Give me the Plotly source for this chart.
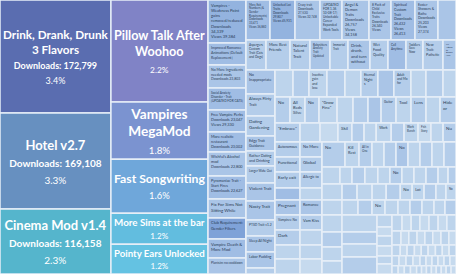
import plotly.graph_objects as go

# ----------------------------- data -----------------------------
# biggest mods (left column): label, downloads, share of all downloads, tile weight
top_labels = ["Drink, Drank, Drunk<br>3 Flavors", "Hotel v2.7", "Cinema Mod v1.4"]
top_downloads = [172799, 169108, 116158]
top_share = [3.4, 3.3, 2.3]
top_size = [251, 213, 144]

# second column
second_labels = ["Pillow Talk After<br>Woohoo", "Vampires<br>MegaMod", "Fast Songwriting",
                 "More Sims at the bar", "Pointy Ears Unlocked"]
second_share = [2.2, 1.8, 1.6, 1.2, 1.2]
second_size = [198, 111, 105, 60, 58]

# third column
col3_labels = [
    "Vampires -<br>Weakness Point<br>gains<br>removed/reduced<br>Downloads<br>34,339<br>Views 39,384",
    "Improved Romance<br>Animations [Default<br>Replacement]",
    "No More Ingredients<br>needed mods<br>Downloads 23,803",
    "Social Anxiety<br>Disorder - Trait<br>[UPDATED FOR CATS]",
    "Free Vampire Perks<br>Downloads 23,047<br>Views 29,330",
    "More realistic<br>restaurant<br>Downloads 23,002",
    "Wishful's Alcohol<br>mod<br>Downloads 22,800",
    "Pyromaniac Trait -<br>Start Fires<br>Downloads 22,627",
    "Fix For Sims Not<br>Sitting While",
    "Club Requirement:<br>Gender Filters",
    "Vampire Death &<br>More Mod",
    "Plantsim no cooldown",
]
col3_size = [32.7, 16.7, 17.5, 16.7, 16.7, 15.2, 18.2, 17.5, 14.4, 16.0, 14.4, 12.2]

# right block, first row
r1_labels = [
    "More Exit<br>Numbers [&<br>Gender<br>Requirements]<br>Downloads<br>33,471<br>Views 36,860",
    "Unlocked Lot<br>Traits<br>Downloads<br>29,807<br>Views 45,931",
    "Crazy trait<br>Downloads<br>27,530<br>Views 32,748",
    "[UPDATED<br>FOR 1.36<br>10-08-17]<br>Unlockable<br>Career<br>Expanded<br>Work Tools",
    "Angel &<br>Demon<br>Traits<br>Downloads<br>26,757<br>Views<br>34,158",
    "8 Pack of<br>Child<br>Exclusive<br>Traits<br>Downloads<br>26,340<br>Views",
    "Spiritual<br>Custom<br>Trait<br>Downloads<br>26,432<br>Views<br>26,413",
    "Easter<br>Showers &<br>Bathe<br>Downloads<br>25,203<br>Views<br>27,374",
    "",
]
r1_size = [19.2, 20, 20, 17.6, 21.6, 17.6, 19.2, 18.4, 14.4]

# right block, second row
r2_labels = ["Aspergers<br>Custom<br>Trait (Cats<br>and Dogs)", "More Best<br>Friends",
             "Natural<br>Talent<br>Trait", "Babysitters<br>Anxiety<br>Trait<br>Updated",
             "Immortal<br>Trait", "Drink,<br>drank,<br>and turn<br>without", "Wet<br>Food<br>Quality",
             "Call<br>Anytime", "Toddlers<br>Save<br>Now", "New<br>Trait:<br>Pathetic",
             "Kill<br>Attend<br>to<br>Bubble<br>Hole"]
r2_size = [12, 14.4, 12, 12, 10.8, 13.2, 10.8, 10.8, 10.2, 12, 7.8]

sc1_labels = ["No<br>Inappropriate", "Always Flirty<br>Trait", "Dating<br>Gardening",
              "Edgy Trait<br>Guidance", "Rather Dating<br>and Drinking", "Longer Wake Out",
              "Violent Trait", "Nasty Trait", "PTSD Trait v1.2", "Sleep All Night",
              "Labor Pudding", ""]
sc1_size = [13.9, 12.8, 11.6, 8.7, 8.7, 9.9, 10.4, 11.0, 9.3, 9.3, 9.3, 3.5]

ra_labels = ["", "", "Inactive<br>gain<br>and<br>lose", "", "", "Eternal<br>Night<br>s", "",
             "Adult<br>and Mo<br>for", "", "", ""]
ra_size = [9.7, 8.6, 9.7, 9.7, 8.6, 9.2, 8.6, 9.2, 8.1, 9.2, 7.0]

rb_labels = ["No", "All<br>Beds<br>Silve", "No", "\"Grow<br>Fine\"", "", "", "", "Guitar",
             "Tool", "Lens", "", "Hide<br>or"]
rb_size = [7.8, 7.8, 7.3, 9.4, 8.3, 7.8, 6.8, 7.8, 7.8, 7.8, 7.3, 8.3]

rc_labels = ["\"Embrace\"", "", "", "Skil", "", "", "Work", "", "Work<br>Bench", "Fish<br>Story", "", "Nu"]
rc_size = [9.5, 7.6, 6.8, 5.3, 4.6, 4.6, 5.7, 4.9, 5.3, 4.9, 4.6, 4.9]

k1_labels = ["Autonomous", "Functional", "Early exit", "", "Pregnant", "Vampires: No", "Dark", "", ""]
k1_size = [7.5, 7.5, 8.0, 6.0, 7.5, 7.5, 7.5, 7.0, 7.5]
k2_labels = ["No More", "Global", "Allergic to", "", "Romance", "Vam Kiss", "", "", ""]
k2_size = [6.6, 6.6, 7.0, 5.3, 6.6, 6.6, 6.6, 6.2, 6.6]

d1_labels = ["No", "Kill<br>Rest", "All in<br>One", "", "", "No", "", "", "", ""]
d1_size = [11.5, 7.0, 6.5, 6.0, 6.0, 6.0, 6.0, 6.0, 6.0, 6.0]
d2_labels = ["", "", "", "", "", "No", "", "", "", "", ""]
d2_size = [6.1, 4.1, 4.4, 4.4, 4.1, 4.1, 4.1, 4.1, 4.1, 3.4, 2.7]
d3_labels = ["", "", "", "", "", "No", "Lot", "", "", "No"]
d3_size = [6.4, 4.8, 4.8, 4.5, 4.5, 3.8, 3.8, 3.8, 3.2, 3.2]
d4_labels = ["", "", "", "No", "", "", "", "", "", ""]
d4_size = [6.0, 4.8, 4.2, 3.9, 3.9, 3.6, 3.6, 3.6, 3.3, 3.3]

e1_size = [6.8, 6.0, 5.6, 5.2]
e2_size = [11.9, 8.4, 9.1, 11.9]
e3_size = [3.6, 2.7, 3.0, 3.0, 2.4, 3.0]
f1_size = [3.2, 2.9, 2.8, 2.9, 2.9, 2.8, 2.9]
f2_size = [2.5, 2.2, 2.3, 2.2, 2.2, 2.3, 2.2, 2.0]
f3_size = [1.8, 1.5, 1.6, 1.5, 1.5, 1.6, 1.5, 1.5, 1.5]
f4_size = [1.4, 1.4, 1.4, 1.4, 1.2, 1.2, 1.2, 1.2, 1.2, 1.2]
f5_size = [1.0, 1.0, 1.0, 1.0, 0.8, 0.8, 0.8, 0.8, 0.8, 0.8, 0.8, 0.8]

# ----------------------------- styles -----------------------------
PALETTE = ["#7fa2d8", "#93b3df", "#a0bde4", "#aac5e7", "#b4cdea", "#bdd4ec", "#c6daee", "#cfe0f0"]
top_colors = ["#5a6db0", "#6790c0", "#55b5cc"]
second_colors = ["#8083c6", "#7b93d0", "#6fa7da", "#62bddf", "#64c2e2"]
name_sizes_top = [13, 13, 13]
name_sizes_second = [15, 14, 13, 12, 12]

shades = {
    "c3": [1, 2, 3, 2, 2, 2, 3, 2, 3, 0, 2, 3],
    "r1": [2, 1, 3, 3, 3, 3, 2, 3, 3],
    "r2": [4, 4, 4, 3, 4, 3, 4, 2, 4, 4, 3],
    "sc1": [3, 4, 4, 3, 4, 4, 3, 3, 4, 3, 3, 4],
    "ra": [5, 4, 5, 4, 5, 4, 3, 4, 5, 4, 5],
    "rb": [4, 5, 4, 5, 5, 4, 3, 4, 5, 4, 5, 4],
    "rc": [4, 5, 6, 5, 4, 5, 5, 4, 5, 6, 5, 4],
    "k1": [4, 4, 4, 2, 3, 4, 4, 5, 5],
    "k2": [4, 4, 4, 5, 3, 4, 5, 5, 6],
    "d1": [4, 5, 4, 5, 4, 3, 5, 4, 5, 4],
    "d2": [5, 5, 4, 5, 5, 4, 5, 5, 4, 5, 4],
    "d3": [5, 4, 5, 5, 4, 5, 5, 4, 5, 5],
    "d4": [5, 5, 4, 5, 5, 5, 4, 5, 5, 4],
    "e1": [5, 4, 5, 5], "e2": [5, 4, 5, 4], "e3": [5, 6, 5, 6, 5, 6],
}

# ----------------------------- build tree -----------------------------
ids, parents, labels, values, colors, text_big, text_small = [], [], [], [], [], [], []
big_font_sizes = []


def node(i, p, lab, val, col, tb="", ts="", fs=5):
    ids.append(i); parents.append(p); labels.append(lab); values.append(val)
    colors.append(col); text_big.append(tb); text_small.append(ts); big_font_sizes.append(fs)


def group(gid, parent):
    node(gid, parent, gid, 0, "#c6d9ee")


def leaves(gid, names, sizes, shade):
    if names is None:
        names = [""] * len(sizes)
    if shade is None:
        shade = [5 + (k % 2) for k in range(len(sizes))]
    for k, (n, s, sh) in enumerate(zip(names, sizes, shade)):
        lid = f"{gid}-{k}"
        node(lid, gid, n.replace("<br>", " ") if n else lid, s, PALETTE[sh], "", n)


node("root", "", "Sims 4 mods", 0, "#dfe8f3")

group("col1", "root")
for k, (lab, d, sh, s) in enumerate(zip(top_labels, top_downloads, top_share, top_size)):
    t = (f"<b>{lab}</b><br><b><span style='font-size:10px'>Downloads: {d:,}</span></b>"
         f"<br><span style='font-size:10px'>{sh}%</span>")
    node(f"top-{k}", "col1", lab.replace("<br>", " "), s, top_colors[k], t, "", name_sizes_top[k])

group("col2", "root")
for k, (lab, sh, s) in enumerate(zip(second_labels, second_share, second_size)):
    t = f"<b>{lab}</b><br><span style='font-size:10px'>{sh}%</span>"
    node(f"sec-{k}", "col2", lab.replace("<br>", " "), s, second_colors[k], t, "", name_sizes_second[k])

group("col3", "root")
leaves("col3", col3_labels, col3_size, shades["c3"])

group("R", "root")
group("R1", "R"); leaves("R1", r1_labels, r1_size, shades["r1"])
group("R2", "R"); leaves("R2", r2_labels, r2_size, shades["r2"])
group("R3", "R")
group("SC1", "R3"); leaves("SC1", sc1_labels, sc1_size, shades["sc1"])
group("R3b", "R3")
group("ra", "R3b"); leaves("ra", ra_labels, ra_size, shades["ra"])
group("rb", "R3b"); leaves("rb", rb_labels, rb_size, shades["rb"])
group("rc", "R3b"); leaves("rc", rc_labels, rc_size, shades["rc"])
group("R3c", "R3b")
group("K1", "R3c"); leaves("K1", k1_labels, k1_size, shades["k1"])
group("K2", "R3c"); leaves("K2", k2_labels, k2_size, shades["k2"])
group("R3d", "R3c")
group("d1", "R3d"); leaves("d1", d1_labels, d1_size, shades["d1"])
group("d2", "R3d"); leaves("d2", d2_labels, d2_size, shades["d2"])
group("d3", "R3d"); leaves("d3", d3_labels, d3_size, shades["d3"])
group("d4", "R3d"); leaves("d4", d4_labels, d4_size, shades["d4"])
group("R3e", "R3d")
group("E1", "R3e"); leaves("E1", None, e1_size, shades["e1"])
group("E2", "R3e"); leaves("E2", None, e2_size, shades["e2"])
group("E3", "R3e"); leaves("E3", None, e3_size, shades["e3"])
group("R3f", "R3e")
for gname, sz in [("f1", f1_size), ("f2", f2_size), ("f3", f3_size), ("f4", f4_size), ("f5", f5_size)]:
    group(gname, "R3f"); leaves(gname, None, sz, None)

FONT = "Lato, 'Open Sans', sans-serif"
common = dict(
    ids=ids, parents=parents, labels=labels, values=values,
    branchvalues="remainder", sort=False, textinfo="text",
    tiling=dict(packing="slice-dice", pad=0),
    pathbar=dict(visible=False), hoverinfo="skip",
    domain=dict(x=[0, 1], y=[0, 1]),
)

fig = go.Figure()
fig.add_trace(go.Treemap(
    **common,
    text=text_big,
    textposition="middle center",
    textfont=dict(family=FONT, size=big_font_sizes, color="white"),
    marker=dict(colors=colors, line=dict(color="#e6eef7", width=1.5),
                pad=dict(t=0, l=0, r=0, b=0)),
))
fig.add_trace(go.Treemap(
    **common,
    text=text_small,
    textposition="top left",
    textfont=dict(family=FONT, size=4.5, color="#2a3c55"),
    marker=dict(colors=["rgba(0,0,0,0)"] * len(ids), line=dict(width=0),
                pad=dict(t=0, l=0, r=0, b=0)),
))
fig.update_layout(width=456, height=274, margin=dict(l=0, r=0, t=0, b=0),
                  paper_bgcolor="white", showlegend=False, hovermode=False)
fig.write_html("out.html", config={"staticPlot": True})
